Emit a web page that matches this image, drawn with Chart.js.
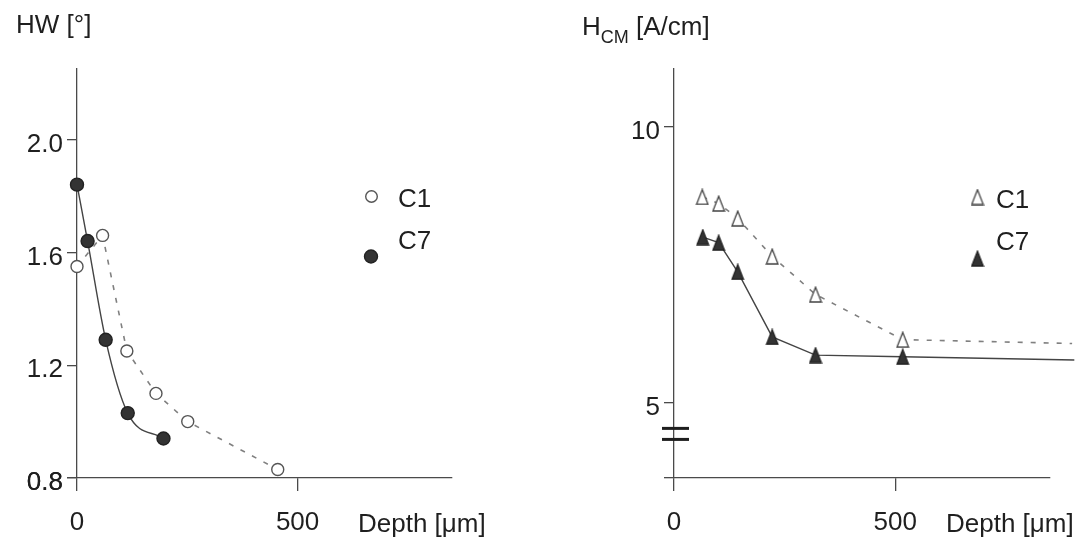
<!DOCTYPE html>
<html>
<head>
<meta charset="utf-8">
<script src="https://cdn.jsdelivr.net/npm/chart.js@4.4.1/dist/chart.umd.min.js"></script>
<style>
    body { margin: 0; background: #fff; }
    .panel { position: absolute; top: 0; width: 543px; height: 555px; }
</style>
</head>
<body>
<div class="panel" style="left:0"><canvas id="hwChart" width="543" height="555"></canvas></div>
<div class="panel" style="left:543px"><canvas id="hcmChart" width="543" height="555"></canvas></div>
<script>
// values
const depthTicks = [0, 500];
const hwTicks = [0.8, 1.2, 1.6, 2.0];
const hcmTicks = [5, 10];

const hwC1Depth = [0, 58, 113, 179, 251, 455];
const hwC1 = [1.55, 1.66, 1.25, 1.10, 1.00, 0.83];
const hwC7Depth = [0, 24, 65, 115, 196];
const hwC7 = [1.84, 1.64, 1.29, 1.03, 0.94];

// last point of each H_CM series is only the end of the line (no marker)
const hcmC1Depth = [64, 101, 144, 222, 320, 517, 900];
const hcmC1 = [8.73, 8.61, 8.34, 7.65, 6.96, 6.14, 6.07];
const hcmC7Depth = [65, 101, 144, 222, 320, 517, 905];
const hcmC7 = [8.00, 7.90, 7.37, 6.19, 5.86, 5.83, 5.77];

const FONT = '"Liberation Sans", Arial, sans-serif';
const AXIS = '#4a4a4a';
const INK = '#1f1f1f';

function triangle(filled) { // tall narrow triangle marker
    const c = document.createElement('canvas');
    c.width = 14; c.height = 17;
    const g = c.getContext('2d');
    g.beginPath();
    g.moveTo(7, 1.2);
    g.lineTo(12.8, 16);
    g.lineTo(1.2, 16);
    g.closePath();
    g.fillStyle = filled ? '#333' : '#fff';
    g.fill();
    g.lineWidth = 1.3;
    g.strokeStyle = filled ? '#222' : '#444';
    g.stroke();
    return c;
}
const openTri = triangle(false);
const fullTri = triangle(true);

function points(xs, ys) {
    return xs.map((x, i) => ({x: x, y: ys[i]}));
}

function scales(yMin, yMax, yTicks, yLabel, yWidth) {
    return {
        x: {
            type: 'linear', min: 0, max: 850,
            afterFit: s => { s.height = 77; },
            afterBuildTicks: s => { s.ticks = depthTicks.map(v => ({value: v})); },
            border: {display: true, color: AXIS, width: 1.3},
            grid: {drawOnChartArea: false, drawTicks: true, tickLength: 13, color: AXIS, lineWidth: 1.3},
            ticks: {color: INK, font: {family: FONT, size: 26}, padding: 16, maxRotation: 0}
        },
        y: {
            type: 'linear', min: yMin, max: yMax,
            afterFit: s => { s.width = yWidth; },
            afterBuildTicks: s => { s.ticks = [yMin].concat(yTicks).map(v => ({value: v})); },
            border: {display: true, color: AXIS, width: 1.3},
            grid: {drawOnChartArea: false, drawTicks: true, tickLength: 10, color: AXIS, lineWidth: 1.3},
            ticks: {
                color: INK, font: {family: FONT, size: 26}, padding: 4, labelOffset: 5,
                callback: v => yTicks.includes(v) ? yLabel(v) : ''
            }
        }
    };
}

function decor(cfg) {
    return {
        id: 'decor',
        afterDraw(chart) {
            const ctx = chart.ctx;
            const area = chart.chartArea;
            ctx.save();
            ctx.fillStyle = INK;
            ctx.textBaseline = 'alphabetic';
            ctx.textAlign = 'left';
            // y title
            let x = cfg.titleX;
            cfg.title.forEach(part => {
                ctx.font = part.size + 'px ' + FONT;
                ctx.fillText(part.text, x, part.base);
                x += ctx.measureText(part.text).width;
            });
            // x title next to the ticks
            ctx.font = '26px ' + FONT;
            ctx.fillText('Depth [μm]', cfg.depthX, 532);
            // legend
            chart.data.datasets.forEach((ds, i) => {
                const lg = cfg.legend[i];
                ctx.fillStyle = INK;
                ctx.fillText(ds.label, lg.tx, lg.ty);
                if (ds.pointStyle instanceof HTMLCanvasElement) {
                    const im = ds.pointStyle;
                    ctx.drawImage(im, lg.mx - im.width / 2, lg.my - im.height / 2);
                } else {
                    ctx.beginPath();
                    ctx.arc(lg.mx, lg.my, lg.r, 0, Math.PI * 2);
                    ctx.fillStyle = ds.pointBackgroundColor;
                    ctx.fill();
                    ctx.lineWidth = ds.pointBorderWidth;
                    ctx.strokeStyle = ds.pointBorderColor;
                    ctx.stroke();
                }
            });
            // axis break
            if (cfg.breakAt) {
                const ys = chart.scales.y;
                ctx.strokeStyle = '#1e1e1e';
                ctx.lineWidth = 3;
                cfg.breakAt.forEach(v => {
                    const py = ys.getPixelForValue(v);
                    ctx.beginPath();
                    ctx.moveTo(area.left - 12, py);
                    ctx.lineTo(area.left + 15, py);
                    ctx.stroke();
                });
            }
            ctx.restore();
        }
    };
}

function lineSet(label, data, dashed, style) {
    return Object.assign({
        label: label,
        data: data,
        clip: false,
        borderColor: dashed ? '#808080' : '#444',
        borderWidth: dashed ? 1.6 : 1.4,
        borderDash: dashed ? [5, 8] : [],
        pointBorderWidth: 1.4,
        pointHoverRadius: 0
    }, style);
}

// HW chart
new Chart(document.getElementById('hwChart'), {
    type: 'line',
    data: {
        datasets: [
            lineSet('C1', points(hwC1Depth, hwC1), true, {
                pointStyle: 'circle', pointRadius: 6,
                pointBackgroundColor: '#fff', pointBorderColor: '#555'
            }),
            lineSet('C7', points(hwC7Depth, hwC7), false, {
                cubicInterpolationMode: 'monotone',
                pointStyle: 'circle', pointRadius: 6.5,
                pointBackgroundColor: '#333', pointBorderColor: '#222'
            })
        ]
    },
    options: {
        responsive: false, animation: false, events: [],
        layout: {padding: {left: 0, right: 91, top: 69, bottom: 0}},
        plugins: {legend: {display: false}, tooltip: {enabled: false}},
        scales: scales(0.8, 2.25, hwTicks, v => v.toFixed(1), 77)
    },
    plugins: [decor({
        titleX: 16,
        title: [{text: 'HW [°]', size: 26, base: 33}],
        depthX: 358,
        legend: [
            {tx: 398, ty: 207, mx: 371.5, my: 196.5, r: 5.8},
            {tx: 398, ty: 249, mx: 371, my: 256.5, r: 6.5}
        ]
    })]
});

// H_CM chart
new Chart(document.getElementById('hcmChart'), {
    type: 'line',
    data: {
        datasets: [
            lineSet('C1', points(hcmC1Depth, hcmC1), true, {
                pointStyle: openTri, pointRadius: hcmC1Depth.map((d, i) => i === hcmC1Depth.length - 1 ? 0 : 7)
            }),
            lineSet('C7', points(hcmC7Depth, hcmC7), false, {
                pointStyle: fullTri, pointRadius: hcmC7Depth.map((d, i) => i === hcmC7Depth.length - 1 ? 0 : 7)
            })
        ]
    },
    options: {
        responsive: false, animation: false, events: [],
        layout: {padding: {left: 54, right: 36, top: 69, bottom: 0}},
        plugins: {legend: {display: false}, tooltip: {enabled: false}},
        scales: scales(3.63, 11.05, hcmTicks, v => String(v), 77)
    },
    plugins: [decor({
        titleX: 39,
        title: [
            {text: 'H', size: 26, base: 35},
            {text: 'CM', size: 18, base: 43},
            {text: ' [A/cm]', size: 26, base: 35}
        ],
        depthX: 403,
        breakAt: [4.53, 4.33],
        legend: [
            {tx: 453, ty: 208, mx: 434.5, my: 197},
            {tx: 453, ty: 250, mx: 434.5, my: 258.5}
        ]
    })]
});
</script>
</body>
</html>
